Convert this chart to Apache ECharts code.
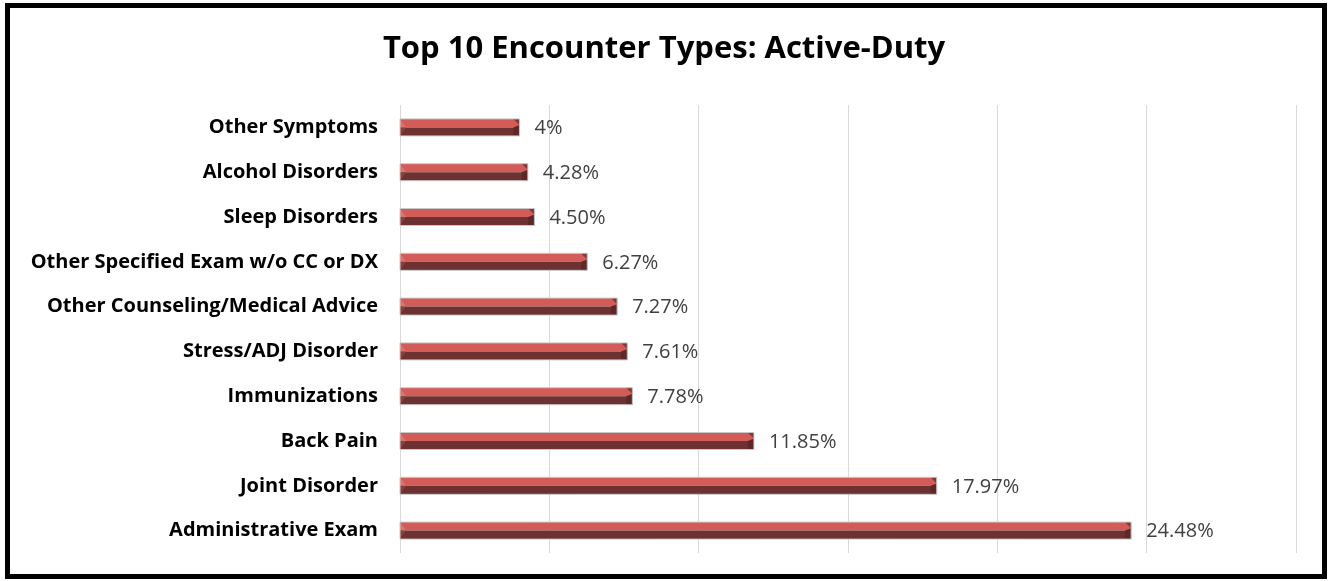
<!DOCTYPE html>
<html>
<head>
<meta charset="utf-8">
<script src="https://cdn.jsdelivr.net/npm/echarts@6/dist/echarts.min.js"></script>
<style>
  html, body { margin: 0; padding: 0; background: #fff; }
  #chart { width: 1328px; height: 581px; }
</style>
</head>
<body>
<div id="chart"></div>
<script>
// Encounter categories, top to bottom
const categories = [
  'Other Symptoms',
  'Alcohol Disorders',
  'Sleep Disorders',
  'Other Specified Exam w/o CC or DX',
  'Other Counseling/Medical Advice',
  'Stress/ADJ Disorder',
  'Immunizations',
  'Back Pain',
  'Joint Disorder',
  'Administrative Exam'
];
// Share of encounters (%)
const shares = [4, 4.28, 4.50, 6.27, 7.27, 7.61, 7.78, 11.85, 17.97, 24.48];
// Value labels as printed
const shareLabels = ['4%', '4.28%', '4.50%', '6.27%', '7.27%', '7.61%', '7.78%', '11.85%', '17.97%', '24.48%'];

const chart = echarts.init(document.getElementById('chart'), null, { renderer: 'canvas' });

const FONT = '"Open Sans", Lato, sans-serif';

// Bevelled bar: light upper face, dark lower face, angled end caps
function renderBar(params, api) {
  const v = api.value(0);
  const i = api.value(1);
  const p0 = api.coord([0, i]);
  const p1 = api.coord([v, i]);
  const h = api.size([0, 1])[1] * 0.38;
  const x0 = p0[0], x1 = p1[0], yc = p0[1];
  const y0 = yc - h / 2, y1 = yc + h / 2;
  const b = h * 0.36;
  return {
    type: 'group',
    children: [
      { type: 'rect', shape: { x: x0, y: y0, width: x1 - x0, height: h / 2 }, style: { fill: '#D35C59' } },
      { type: 'rect', shape: { x: x0, y: yc, width: x1 - x0, height: h / 2 }, style: { fill: '#6D3131' } },
      // left cap
      { type: 'polygon', shape: { points: [[x0, y0], [x0 + b, yc], [x0, yc]] }, style: { fill: '#DC7471' } },
      { type: 'polygon', shape: { points: [[x0, yc], [x0 + b, yc], [x0, y1]] }, style: { fill: '#8E3E3C' } },
      // right cap
      { type: 'polygon', shape: { points: [[x1 - b, y0], [x1, y0], [x1, y0 + b]] }, style: { fill: '#7E3836' } },
      { type: 'polygon', shape: { points: [[x1 - b, yc], [x1, y0 + b], [x1, y1], [x1 - b, y1]] }, style: { fill: '#5E2828' } },
      // outline
      { type: 'rect', shape: { x: x0, y: y0, width: x1 - x0, height: h }, style: { fill: 'none', stroke: '#c9c9c9', lineWidth: 1 } },
      // value label
      { type: 'text', style: { x: x1 + 15, y: yc + 1, text: shareLabels[i], fill: '#404040', font: '20px ' + FONT, textAlign: 'left', textVerticalAlign: 'middle' } }
    ]
  };
}

chart.setOption({
  animation: false,
  title: {
    text: 'Top 10 Encounter Types: Active-Duty',
    left: 'center',
    top: 29,
    textStyle: { fontFamily: FONT, fontWeight: 'bold', fontSize: 31, color: '#000' }
  },
  graphic: [{
    type: 'rect',
    shape: { x: 7.5, y: 5.5, width: 1317, height: 571 },
    style: { fill: 'none', stroke: '#000', lineWidth: 5 },
    z: 100
  }],
  grid: { left: 400, right: 32, top: 105, bottom: 28 },
  xAxis: {
    type: 'value',
    min: 0,
    max: 30,
    interval: 5,
    axisLabel: { show: false },
    axisLine: { show: false },
    axisTick: { show: false },
    splitLine: { show: true, lineStyle: { color: '#d9d9d9', width: 1 } }
  },
  yAxis: {
    type: 'category',
    data: categories,
    inverse: true,
    axisLine: { show: false },
    axisTick: { show: false },
    axisLabel: { margin: 22, fontFamily: FONT, fontWeight: 'bold', fontSize: 20, color: '#000' }
  },
  series: [{
    type: 'custom',
    renderItem: renderBar,
    encode: { x: 0, y: 1 },
    data: shares.map((v, i) => [v, i])
  }]
});
</script>
</body>
</html>
